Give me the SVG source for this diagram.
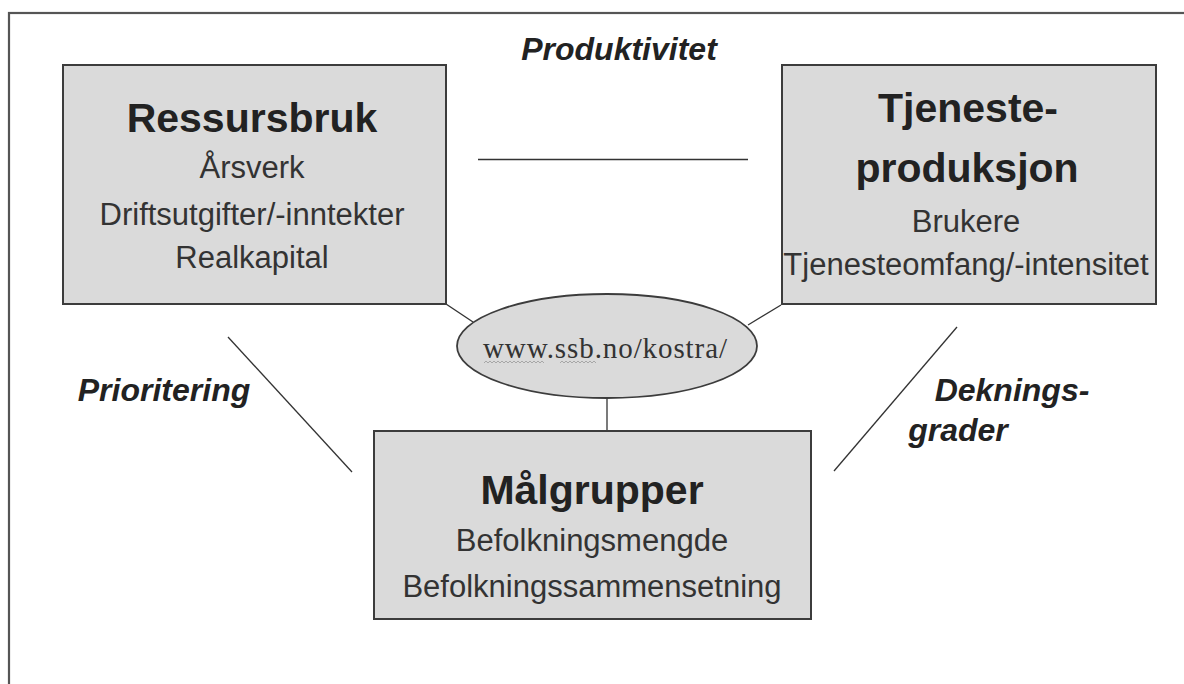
<svg xmlns="http://www.w3.org/2000/svg" width="1184" height="684" viewBox="0 0 1184 684">
<style>
.box{fill:#dadada;stroke:#3c3c3c;stroke-width:2}
.title{font-family:"Liberation Sans",Arial,sans-serif;font-weight:bold;font-size:41px;fill:#222;text-anchor:middle}
.sub{font-family:"Liberation Sans",Arial,sans-serif;font-size:31px;fill:#333;text-anchor:middle}
.lbl{font-family:"Liberation Sans",Arial,sans-serif;font-weight:bold;font-style:italic;font-size:32px;fill:#222}
.conn{stroke:#333;stroke-width:1.3;fill:none}
</style>
<rect x="0" y="0" width="1184" height="684" fill="#ffffff"/>
<rect x="9" y="13" width="1200" height="720" fill="none" stroke="#555" stroke-width="2.2"/>
<g id="connectors">
<line class="conn" x1="478" y1="159.5" x2="748" y2="159.5" stroke-width="1.6"/>
<line class="conn" x1="446" y1="304" x2="473" y2="322"/>
<line class="conn" x1="781" y1="305" x2="748" y2="325"/>
<line class="conn" x1="607" y1="398" x2="607" y2="431" stroke-width="1.6"/>
<line class="conn" x1="228" y1="337" x2="352" y2="472"/>
<line class="conn" x1="957" y1="327" x2="834" y2="471"/>
</g>
<g id="labels">
<text class="lbl" x="619" y="60" text-anchor="middle">Produktivitet</text>
<text class="lbl" x="164" y="401" text-anchor="middle">Prioritering</text>
<text class="lbl" x="1012" y="401" text-anchor="middle">Deknings-</text>
<text class="lbl" x="958" y="441" text-anchor="middle">grader</text>
</g>
<g id="ressursbruk">
<rect class="box" x="63" y="65" width="383" height="239"/>
<text class="title" x="252" y="132">Ressursbruk</text>
<text class="sub" x="252" y="178">Årsverk</text>
<text class="sub" x="252" y="225">Driftsutgifter/-inntekter</text>
<text class="sub" x="252" y="268">Realkapital</text>
</g>
<g id="tjenesteproduksjon">
<rect class="box" x="782" y="65" width="374" height="239"/>
<text class="title" x="968" y="122">Tjeneste-</text>
<text class="title" x="967" y="182">produksjon</text>
<text class="sub" x="966" y="232">Brukere</text>
<text class="sub" x="966" y="275">Tjenesteomfang/-intensitet</text>
</g>
<g id="malgrupper">
<rect class="box" x="374" y="431" width="437" height="188"/>
<text class="title" x="592" y="504">Målgrupper</text>
<text class="sub" x="592" y="551">Befolkningsmengde</text>
<text class="sub" x="592" y="597">Befolkningssammensetning</text>
</g>
<g id="kostra">
<ellipse cx="607" cy="346" rx="150" ry="52" fill="#dadada" stroke="#3c3c3c" stroke-width="1.8"/>
<text x="605" y="358" text-anchor="middle" font-family="'Liberation Serif','Times New Roman',serif" font-size="29" fill="#333" textLength="244" lengthAdjust="spacing">www.ssb.no/kostra/</text>
<path d="M484 363 l2 -2 l2 2 l2 -2 l2 2 l2 -2 l2 2 l2 -2 l2 2 l2 -2 l2 2 l2 -2 l2 2 l2 -2 l2 2 l2 -2 l2 2 l2 -2 l2 2 l2 -2 l2 2 l2 -2 l2 2 l2 -2 l2 2 l2 -2 l2 2 l2 -2 l2 2 l2 -2 l2 2" fill="none" stroke="#999" stroke-width="0.8"/>
<path d="M560 363 l2 -2 l2 2 l2 -2 l2 2 l2 -2 l2 2 l2 -2 l2 2 l2 -2 l2 2 l2 -2 l2 2 l2 -2 l2 2 l2 -2 l2 2 l2 -2 l2 2" fill="none" stroke="#999" stroke-width="0.8"/>
</g>
</svg>
